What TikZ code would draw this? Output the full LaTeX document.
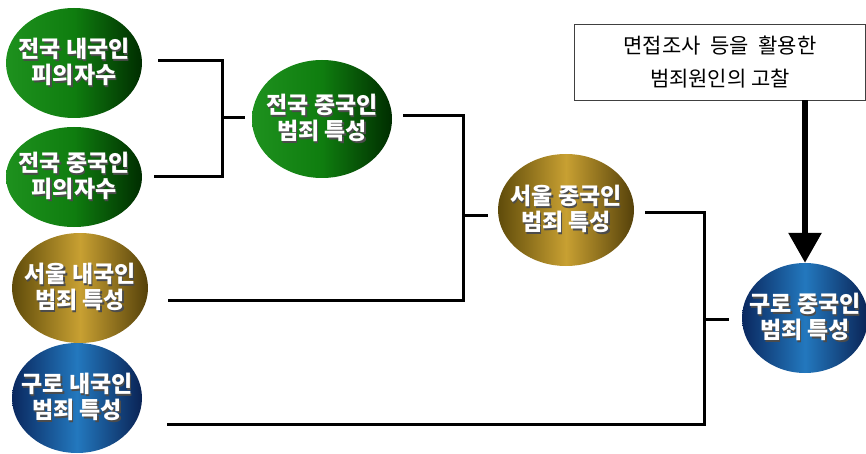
\documentclass[tikz,border=0pt]{standalone}
\usepackage{fontspec}
\usepackage{tikz}
\usetikzlibrary{shapes.geometric,arrows.meta}

\newfontfamily\krfont{Noto Sans CJK KR}[BoldFont={Noto Sans CJK KR Black}]

\definecolor{grnA}{RGB}{30,145,30}
\definecolor{grnB}{RGB}{15,125,15}
\definecolor{grnC}{RGB}{0,45,0}
\definecolor{gldA}{RGB}{95,75,10}
\definecolor{gldB}{RGB}{200,160,50}
\definecolor{gldC}{RGB}{85,65,10}
\definecolor{bluA}{RGB}{10,40,95}
\definecolor{bluB}{RGB}{35,120,190}
\definecolor{bluC}{RGB}{10,35,85}

% white text with a dark drop shadow
\newcommand{\shd}[1]{\rlap{\kern1.5pt\raisebox{-1.5pt}{\color{black!70}#1}}#1}

\tikzset{
  blob/.style={ellipse, inner xsep=-20pt, inner ysep=0pt,
    minimum width=136pt, minimum height=110pt, align=center, text=white,
    font=\krfont\bfseries\fontsize{23}{26}\selectfont},
  grnblob/.style={blob, left color=grnA, right color=grnC, middle color=grnB},
  gldblob/.style={blob, left color=gldA, right color=gldC, middle color=gldB},
  blublob/.style={blob, left color=bluA, right color=bluC, middle color=bluB},
  link/.style={line width=3pt},
  bigarrow/.style={line width=6pt, -{Triangle[width=32pt,length=30pt]}}
}

\begin{document}
\begin{tikzpicture}[x=1pt,y=-1pt]
  \useasboundingbox (0,0) rectangle (866,454);

  % left column
  \node[grnblob] (n1) at (74,63) {\shd{전국 내국인}\\\shd{피의자수}};
  \node[grnblob, minimum height=100pt] (n2) at (74,177) {\shd{전국 중국인}\\\shd{피의자수}};
  \node[gldblob] (n3) at (80,288) {\shd{서울 내국인}\\\shd{범죄 특성}};
  \node[blublob, minimum width=130pt] (n4) at (77,398) {\shd{구로 내국인}\\\shd{범죄 특성}};

  % middle
  \node[grnblob, minimum width=140pt, minimum height=118pt] (m1) at (322,119) {\shd{전국 중국인}\\\shd{범죄 특성}};
  \node[gldblob, minimum height=112pt] (m2) at (566,210) {\shd{서울 중국인}\\\shd{범죄 특성}};
  \node[blublob, minimum width=126pt] (g) at (805,318) {\shd{구로 중국인}\\\shd{범죄 특성}};

  \node[draw=black!75, line width=0.9pt, minimum width=291pt, minimum height=76pt,
    align=center, font=\krfont\fontsize{21}{33}\selectfont] (box) at (720,62)
    {면접조사\ \ 등을\ \ 활용한\\범죄원인의 고찰};

  % brackets
  \coordinate (k1) at (222,118);
  \coordinate (k2) at (463,216);
  \coordinate (k3) at (704,319);

  \draw[link] ([xshift=16pt,yshift=2pt]n1.east) -| (k1) |- ([xshift=12pt]n2.east);
  \draw[link] (k1) -- ([xshift=-7pt]k1 -| m1.west);
  \draw[link] ([xshift=11pt,yshift=3pt]m1.east) -| (k2) |- ([xshift=20pt,yshift=-12pt]n3.east);
  \draw[link] (k2) -- ([xshift=-10pt]k2 -| m2.west);
  \draw[link] ([xshift=11pt,yshift=-3pt]m2.east) -| (k3) |- ([xshift=25pt,yshift=-26pt]n4.east);
  \draw[link] (k3) -- ([xshift=-13pt]k3 -| g.west);

  \draw[bigarrow] (box.south -| g.north) -- (g.north);
\end{tikzpicture}
\end{document}
